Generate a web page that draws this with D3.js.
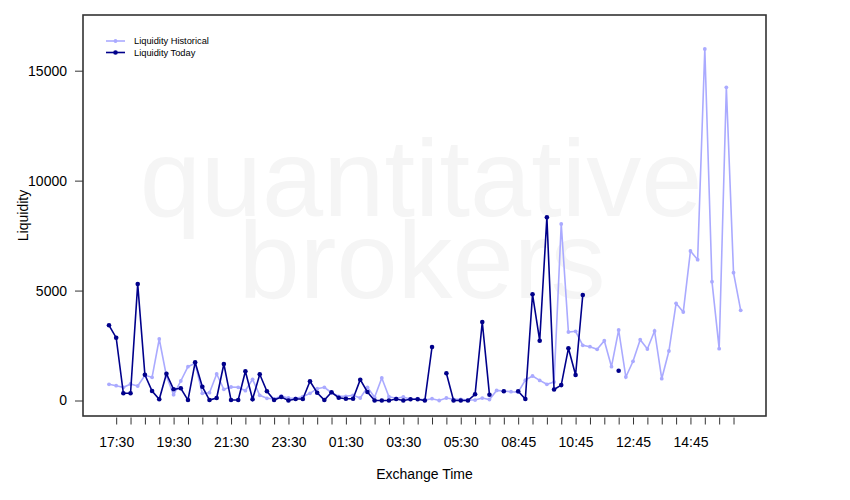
<!DOCTYPE html>
<meta charset="utf-8">
<script src="https://cdn.jsdelivr.net/npm/d3@7"></script>
<style>
  body { margin: 0; background: #fff; }
  text { font-family: "Liberation Sans", Arial, Helvetica, sans-serif; }
</style>
<div id="my_dataviz"></div>
<script>

// exchange time, one slot every 15 minutes (session has a break after 07:00)
var times = ["17:15","17:30","17:45","18:00","18:15","18:30","18:45","19:00","19:15","19:30",
  "19:45","20:00","20:15","20:30","20:45","21:00","21:15","21:30","21:45","22:00",
  "22:15","22:30","22:45","23:00","23:15","23:30","23:45","00:00","00:15","00:30",
  "00:45","01:00","01:15","01:30","01:45","02:00","02:15","02:30","02:45","03:00",
  "03:15","03:30","03:45","04:00","04:15","04:30","04:45","05:00","05:15","05:30",
  "05:45","06:00","06:15","06:30","06:45","07:00","08:30","08:45","09:00","09:15",
  "09:30","09:45","10:00","10:15","10:30","10:45","11:00","11:15","11:30","11:45",
  "12:00","12:15","12:30","12:45","13:00","13:15","13:30","13:45","14:00","14:15",
  "14:30","14:45","15:00","15:15","15:30","15:45","16:00","16:15","16:30"];

// labelled ticks on the x axis
var tickLabels = ["17:30","19:30","21:30","23:30","01:30","03:30","05:30","08:45","10:45","12:45","14:45"];

var yTicks = [0, 5000, 10000, 15000];

var historical = [737, 673, 600, 750, 660, 1146, 1055, 2797, 1114, 264,
  887, 1537, 1692, 327, 355, 1205, 509, 614, 600, 446,
  964, 236, 100, 68, 205, 114, 100, 173, 327, 537,
  600, 355, 190, 191, 236, 114, 600, 145, 1023, 173,
  100, 159, 55, 82, 20, 82, 0, 114, 55, 55,
  20, 20, 110, 45, 460, 430, 400, 380, 925, 1114,
  915, 737, 841, 8027, 3115, 3147, 2510, 2447, 2329, 2720,
  1537, 3206, 1069, 1783, 2765, 2342, 3161, 991, 2251, 4421,
  4025, 6799, 6404, 15986, 5403, 2356, 14244, 5812, 4102];

var today = [3420, 2856, 327, 330, 5298, 1173, 432, 55, 1219, 509,
  555, 20, 1737, 628, 20, 114, 1660, 20, 20, 1328,
  55, 1192, 418, 20, 159, 0, 68, 68, 873, 355,
  20, 373, 127, 82, 82, 946, 387, 0, 0, 0,
  68, 0, 55, 55, 0, 2433, null, 1237, 0, 0,
  0, 282, 3570, 264, null, 418, null, 418, 68, 4830,
  2720, 8330, 500, 700, 2374, 1160, 4798, null, null, null,
  null, 1355, null, null, null, null, null, null, null, null,
  null, null, null, null, null, null, null, null, null];

var colHist = "#aaaaff",
    colToday = "#00008b";

var width = 850, height = 500;
var box = {left: 83, right: 766, top: 15, bottom: 416};

var svg = d3.select("#my_dataviz")
  .append("svg")
    .attr("width", width)
    .attr("height", height);

// watermark (the two words overlap a little, as in the original)
var wm = svg.append("g")
  .attr("fill", "#f5f5f5")
  .style("font-size", "110px")
  .attr("text-anchor", "middle");
wm.append("text").attr("x", 421).attr("y", 216).text("quantitative");
wm.append("text").attr("x", 422).attr("y", 298).text("brokers");

// scales
var x = d3.scalePoint()
  .domain(times)
  .range([109, 740.7]);

var y = d3.scaleLinear()
  .domain([0, 15000])
  .range([400.5, 70.7]);

// panel box
svg.append("rect")
  .attr("x", box.left)
  .attr("y", box.top)
  .attr("width", box.right - box.left)
  .attr("height", box.bottom - box.top)
  .attr("fill", "none")
  .attr("stroke", "#333")
  .attr("stroke-width", 1.6);

// X axis: a tick every other slot, a label every eighth
var xAxis = svg.append("g")
  .attr("transform", "translate(0," + (box.bottom + 1.5) + ")")
  .call(d3.axisBottom(x)
    .tickValues(times.filter(function(d, i) { return i % 2 == 1; }))
    .tickFormat(function(d) { return tickLabels.indexOf(d) >= 0 && times.indexOf(d) % 8 == 1 ? d : ""; })
    .tickSize(7)
    .tickSizeOuter(0)
    .tickPadding(13));
xAxis.select(".domain").remove();
xAxis.selectAll("line").attr("stroke", "#333");
xAxis.selectAll("text").style("font-size", "14px").attr("fill", "#000");

// Y axis
var yAxis = svg.append("g")
  .attr("transform", "translate(" + box.left + ",0)")
  .call(d3.axisLeft(y)
    .tickValues(yTicks)
    .tickFormat(d3.format("d"))
    .tickSize(8)
    .tickSizeOuter(0)
    .tickPadding(8));
yAxis.select(".domain").remove();
yAxis.selectAll("line").attr("stroke", "#333");
yAxis.selectAll("text").style("font-size", "14px").attr("fill", "#000");

// axis titles
svg.append("text")
  .attr("x", (box.left + box.right) / 2)
  .attr("y", 479)
  .attr("text-anchor", "middle")
  .style("font-size", "14px")
  .text("Exchange Time");

svg.append("text")
  .attr("transform", "translate(28," + ((box.top + box.bottom) / 2) + ") rotate(-90)")
  .attr("text-anchor", "middle")
  .style("font-size", "14px")
  .text("Liquidity");

// lines
var line = d3.line()
  .defined(function(d) { return d.v != null; })
  .x(function(d) { return x(d.t); })
  .y(function(d) { return y(d.v); });

function series(vals) {
  return vals.map(function(v, i) { return {t: times[i], v: v}; });
}

var hist = series(historical),
    tod = series(today);

svg.append("path")
  .datum(hist)
  .attr("d", line)
  .attr("fill", "none")
  .attr("stroke", colHist)
  .attr("stroke-width", 1.6);

svg.append("g")
  .selectAll("circle")
  .data(hist)
  .join("circle")
    .attr("cx", function(d) { return x(d.t); })
    .attr("cy", function(d) { return y(d.v); })
    .attr("r", 1.9)
    .attr("fill", colHist);

svg.append("path")
  .datum(tod)
  .attr("d", line)
  .attr("fill", "none")
  .attr("stroke", colToday)
  .attr("stroke-width", 1.6);

svg.append("g")
  .selectAll("circle")
  .data(tod.filter(function(d) { return d.v != null; }))
  .join("circle")
    .attr("cx", function(d) { return x(d.t); })
    .attr("cy", function(d) { return y(d.v); })
    .attr("r", 2.3)
    .attr("fill", colToday);

// legend
var legend = [
  {name: "Liquidity Historical", color: colHist, r: 1.9, y: 41},
  {name: "Liquidity Today", color: colToday, r: 2.3, y: 52.5}
];
var lg = svg.append("g").selectAll("g")
  .data(legend)
  .join("g")
    .attr("transform", function(d) { return "translate(0," + d.y + ")"; });
lg.append("line")
  .attr("x1", 106).attr("x2", 125)
  .attr("stroke", function(d) { return d.color; })
  .attr("stroke-width", 1.6);
lg.append("circle")
  .attr("cx", 115.5)
  .attr("r", function(d) { return d.r; })
  .attr("fill", function(d) { return d.color; });
lg.append("text")
  .attr("x", 134)
  .attr("dy", "0.35em")
  .style("font-size", "9.3px")
  .text(function(d) { return d.name; });

</script>
